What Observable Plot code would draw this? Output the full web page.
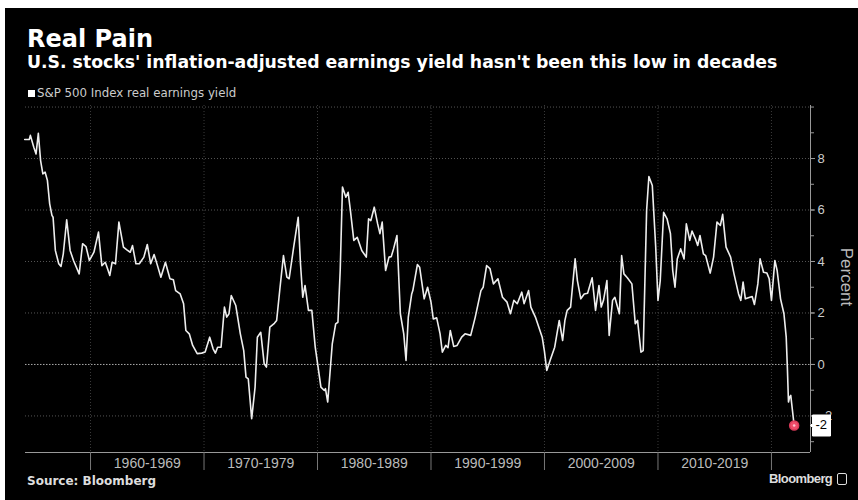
<!DOCTYPE html>
<html><head><meta charset="utf-8">
<script src="https://cdn.jsdelivr.net/npm/d3@7"></script>
<script src="https://cdn.jsdelivr.net/npm/@observablehq/plot@0.6"></script>
<style>
html,body{margin:0;padding:0;background:#fff;width:858px;height:500px;overflow:hidden;}
#bg{position:absolute;left:5px;top:8px;width:853px;height:492px;background:#000;}
.t{position:absolute;white-space:nowrap;color:#fff;}
#title{left:27px;top:27px;font:bold 24px/24px "DejaVu Sans",sans-serif;}
#subtitle{left:27px;top:54px;font:bold 17.3px/17px "DejaVu Sans",sans-serif;}
#legend{left:28px;top:87px;font:11.8px/12px "DejaVu Sans",sans-serif;color:#ccc;}
#legend span{display:inline-block;width:7px;height:7px;background:#fff;margin-right:2px;vertical-align:0px;}
#source{left:27px;top:475px;font:bold 12px/12px "DejaVu Sans",sans-serif;color:#ddd;}
#logo{left:769px;top:472px;font:bold 13px/14px "Liberation Sans",sans-serif;color:#ddd;letter-spacing:-0.6px;}
#logo span{display:inline-block;width:10px;height:12px;border:1.5px solid #ddd;border-radius:2px;margin-left:5px;vertical-align:-2px;box-sizing:border-box;}
#percent{left:846px;top:277px;font:17px/17px "Liberation Sans",sans-serif;color:#bbb;transform:translate(-50%,-50%) rotate(90deg);}
#chart{position:absolute;left:0;top:95px;}
</style></head><body>
<div id="bg"></div>
<div class="t" id="title">Real Pain</div>
<div class="t" id="subtitle">U.S. stocks' inflation-adjusted earnings yield hasn't been this low in decades</div>
<div class="t" id="legend"><span></span>S&amp;P 500 Index real earnings yield</div>
<div class="t" id="source">Source: Bloomberg</div>
<div class="t" id="logo">Bloomberg<span></span></div>
<div class="t" id="percent">Percent</div>
<div id="chart"></div>
<script>
const years = [1954.2,1954.6,1954.7,1955.0,1955.2,1955.4,1955.6,1955.8,1956.0,1956.2,1956.4,1956.6,1956.7,1956.9,1957.2,1957.4,1957.6,1957.9,1958.2,1958.5,1959.0,1959.3,1959.6,1959.9,
1960.3,1960.7,1961.0,1961.3,1961.5,1961.7,1961.9,1962.2,1962.5,1962.9,1963.2,1963.5,1963.7,1964.0,1964.3,1964.7,1965.0,1965.3,1965.6,1965.9,1966.2,1966.6,1967.0,1967.3,1967.5,1967.9,1968.2,1968.4,1968.7,1969.0,1969.4,1969.8,
1970.1,1970.5,1970.8,1971.0,1971.2,1971.5,1971.8,1972.0,1972.2,1972.4,1972.8,1973.2,1973.5,1973.7,1973.9,1974.2,1974.5,1974.7,1975.0,1975.3,1975.5,1975.8,1976.2,1976.4,1976.7,1977.0,1977.3,1977.5,1977.9,1978.3,1978.5,1978.7,1978.9,1979.2,1979.5,1979.8,
1980.3,1980.6,1980.7,1980.9,1981.3,1981.6,1981.8,1982.0,1982.2,1982.5,1982.7,1982.9,1983.2,1983.5,1983.9,1984.3,1984.5,1984.7,1985.0,1985.3,1985.5,1985.7,1986.0,1986.3,1986.5,1986.7,1987.0,1987.3,1987.6,1987.8,1988.0,1988.3,1988.4,1988.8,1989.0,1989.4,1989.7,
1990.0,1990.2,1990.5,1990.8,1991.0,1991.3,1991.5,1991.7,1992.0,1992.3,1992.7,1993.0,1993.5,1993.9,1994.4,1994.6,1994.9,1995.2,1995.5,1995.9,1996.3,1996.7,1997.0,1997.3,1997.6,1998.0,1998.2,1998.6,1998.8,1999.2,1999.8,
2000.0,2000.2,2000.5,2000.9,2001.3,2001.6,2001.8,2002.0,2002.3,2002.7,2002.9,2003.2,2003.5,2003.8,2004.2,2004.5,2004.8,2005.0,2005.2,2005.5,2005.7,2006.0,2006.2,2006.6,2006.8,2007.0,2007.3,2007.7,2008.0,2008.2,2008.5,2008.7,2009.0,2009.2,2009.5,2009.8,
2010.0,2010.2,2010.5,2010.8,2011.1,2011.3,2011.5,2011.7,2012.0,2012.3,2012.5,2012.8,2013.0,2013.3,2013.5,2013.7,2014.0,2014.2,2014.6,2014.9,2015.2,2015.5,2015.7,2016.0,2016.4,2016.7,2017.1,2017.3,2017.5,2017.7,2018.1,2018.3,2018.5,2018.8,2019.0,2019.3,2019.6,2019.8,
2020.0,2020.3,2020.5,2020.8,2021.1,2021.3,2021.4,2021.5,2021.6,2021.7,2022.0];
const yields = [8.74,8.74,8.9,8.44,8.18,8.98,7.92,7.4,7.47,7.15,6.24,5.79,5.72,4.43,3.91,3.81,4.3,5.62,4.43,4.04,3.52,4.69,4.58,4.04,
4.36,5.14,3.84,3.97,3.72,3.46,3.97,3.91,5.53,4.56,4.45,4.36,4.62,3.91,3.91,4.17,4.66,3.91,4.27,3.84,3.39,3.97,3.33,3.29,2.87,2.74,2.36,1.32,1.19,0.74,0.42,0.44,
0.48,1.06,0.61,0.44,0.67,0.67,2.23,1.84,1.97,2.68,2.29,1.19,0.54,-0.49,-0.56,-2.11,-0.88,1.06,1.25,0.03,-0.1,1.45,1.6,1.71,3.0,4.23,3.39,3.33,4.56,5.72,3.91,2.61,3.07,2.1,2.1,0.67,
-0.88,-1.01,-0.94,-1.46,0.8,1.58,1.64,3.65,6.89,6.5,6.69,5.98,4.82,4.94,4.43,4.17,5.66,5.59,6.11,5.46,5.08,5.53,3.65,4.17,4.19,4.49,5.01,1.97,1.19,0.16,1.84,2.74,2.87,3.88,3.78,2.55,3.0,
2.42,1.77,1.81,1.19,0.48,0.74,0.65,1.32,0.70,0.74,1.06,1.19,1.13,1.84,2.87,3.0,3.84,3.72,3.13,3.33,2.61,2.42,1.97,2.49,2.36,2.81,2.36,2.87,2.23,1.84,1.06,
0.5,-0.23,0.16,0.67,1.71,0.93,1.71,2.1,2.23,4.1,3.26,2.55,2.74,2.77,3.37,2.1,3.07,2.23,2.49,3.26,1.13,2.49,2.61,1.97,4.23,3.52,3.37,3.13,1.58,1.71,0.48,0.54,5.98,7.30,6.95,4.56,
2.49,3.26,5.91,5.66,5.08,3.65,3.0,4.1,4.49,4.1,5.46,4.82,5.18,4.88,4.62,5.01,4.3,4.23,3.55,4.17,5.53,5.40,5.83,4.56,4.17,3.52,2.74,2.49,3.2,2.55,2.61,2.64,2.33,3.13,4.1,3.58,3.55,3.33,
2.49,4.04,3.65,2.55,1.97,1.06,-0.1,-1.46,-1.27,-1.2,-2.37];

const decadeTicks = [1960, 1970, 1980, 1990, 2000, 2010, 2020];
const decadeMids = [1965, 1975, 1985, 1995, 2005, 2015];
const decadeLabels = ["1960-1969", "1970-1979", "1980-1989", "1990-1999", "2000-2009", "2010-2019"];
const yTickValues = [-2, 0, 2, 4, 6, 8];
const yMinorTicks = [-3, -2, -1, 0, 1, 2, 3, 4, 5, 6, 7, 8, 9, 10];
const gridValues = [-2, 2, 4, 6, 8, 10];
const lastLabel = "-2";

const xDomain = [1954.27, 2023.44];
const yDomain = [-3.42, 10.06];

const data = years.map((x, i) => ({x, y: yields[i]}));
const last = data[data.length - 1];

const plot = Plot.plot({
  width: 858, height: 400,
  marginTop: 10, marginBottom: 43, marginLeft: 25, marginRight: 48,
  style: {background: "transparent", color: "#bbb", fontFamily: "Liberation Sans, sans-serif", fontSize: "13px", overflow: "visible"},
  x: {domain: xDomain},
  y: {domain: yDomain},
  marks: [
    Plot.ruleY(gridValues, {stroke: "#555", strokeDasharray: "1,2"}),
    Plot.ruleX(decadeTicks, {stroke: "#3a3a3a", strokeDasharray: "1,2"}),
    Plot.ruleY([0], {stroke: "#aaa", strokeDasharray: "1.5,1.5"}),
    Plot.ruleY([yDomain[0]], {stroke: "#999"}),
    Plot.ruleX([xDomain[1]], {stroke: "#999"}),
    Plot.axisX({ticks: decadeTicks, tickSize: 18, fill: "none", label: null, stroke: "#777"}),
    Plot.axisX({ticks: decadeMids, tickSize: 0, tickPadding: 6, tickFormat: d => decadeLabels[decadeMids.indexOf(d)], label: null, fontSize: 14, fill: "#bbb"}),
    Plot.axisY({anchor: "right", ticks: yMinorTicks, tickSize: 3, fill: "none", label: null, stroke: "#999"}),
    Plot.axisY({anchor: "right", ticks: yTickValues, tickSize: 4, tickPadding: 3, label: null, stroke: "#999", fill: "#ccc", fontSize: 13}),
    Plot.line(data, {x: "x", y: "y", stroke: "#eee", strokeWidth: 1.6}),
    Plot.dot([last], {x: "x", y: "y", r: 4.5, fill: "#ee4d6a", stroke: "#d83a58"}),
    Plot.dot([last], {x: "x", y: "y", r: 1.3, fill: "#ffc0cc"}),
    Plot.tip([{x: xDomain[1], y: last.y, label: lastLabel}], {x: "x", y: "y", title: "label", anchor: "left", fill: "white", stroke: "white", pointerSize: 4, textPadding: 3, fontSize: 13, pathFilter: "none"})
  ]
});
document.getElementById("chart").appendChild(plot);
plot.querySelectorAll('g[aria-label="tip"]').forEach(g => {
  g.style.color = "black";
  g.querySelectorAll("text").forEach(t => t.setAttribute("fill", "black"));
});
</script>
</body></html>
